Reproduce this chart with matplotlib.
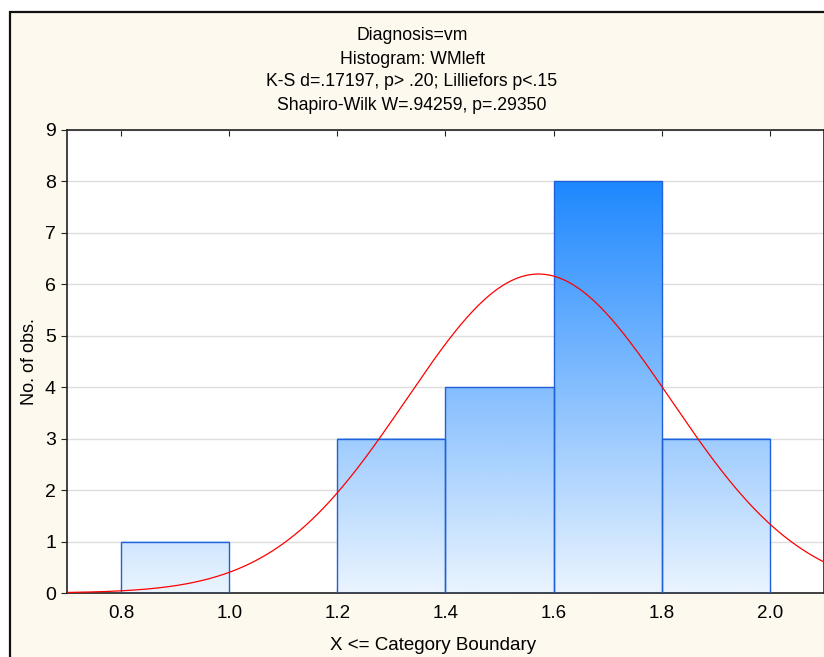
import numpy as np
import matplotlib
matplotlib.use("Agg")
from matplotlib import pyplot as plt
from matplotlib.colors import LinearSegmentedColormap
from matplotlib.patches import Rectangle

plt.rcParams['font.family'] = ['Liberation Sans', 'DejaVu Sans']

# histogram bins (lower boundaries) and counts
bin_left = [0.8, 1.0, 1.2, 1.4, 1.6, 1.8]
bin_width = 0.2
counts = [1, 0, 3, 4, 8, 3]
# fitted normal curve
fit_mean = 1.572
fit_sd = 0.2445
n_obs = 19

titles = ["Diagnosis=vm",
          "Histogram: WMleft",
          "K-S d=.17197, p> .20; Lilliefors p<.15",
          "Shapiro-Wilk W=.94259, p=.29350"]
xticks = [0.8, 1.0, 1.2, 1.4, 1.6, 1.8, 2.0]
yticks = [0, 1, 2, 3, 4, 5, 6, 7, 8, 9]

W, H = 824, 657
fig = plt.figure(figsize=(W / 100, H / 100), dpi=100)
fig.patch.set_facecolor('white')
# cream frame
fig.patches.append(Rectangle((10 / W, -0.1), 1.2, (H - 12) / H + 0.1, transform=fig.transFigure,
                             facecolor='#fef9ee', edgecolor='#111111', linewidth=1.6, zorder=-5))

ax = fig.add_axes([67 / W, (H - 593) / H, (824 - 67) / W, (593 - 130) / H])
ax.set_facecolor('white')

cmap = LinearSegmentedColormap.from_list('bars', ['#eaf4fe', '#1e88ff'])
for x0, c in zip(bin_left, counts):
    if c == 0:
        continue
    grad = np.linspace(0, c, 200).reshape(-1, 1)
    ax.imshow(grad, extent=[x0, x0 + bin_width, 0, c], origin='lower', aspect='auto',
              cmap=cmap, vmin=0, vmax=max(counts), zorder=2, interpolation='bilinear')
    ax.add_patch(Rectangle((x0, 0), bin_width, c, facecolor='none', edgecolor='#2060d8',
                           linewidth=1.0, zorder=3))
ax.set_xlim(0.7, 2.1)
ax.set_ylim(0, 9)

xs = np.linspace(0.7, 2.1, 400)
ys = n_obs * bin_width / (fit_sd * np.sqrt(2 * np.pi)) * np.exp(-(xs - fit_mean) ** 2 / (2 * fit_sd ** 2))
ax.plot(xs, ys, color='#ff0000', linewidth=0.9, zorder=4)

ax.set_xticks(xticks)
ax.set_xticklabels(["%.1f" % v for v in xticks])
ax.set_yticks(yticks)
ax.yaxis.grid(True, color='#dddddd', linewidth=1.0, zorder=0)
ax.set_axisbelow(True)
ax.tick_params(axis='x', direction='in', top=True, length=4, labelsize=13.5, pad=9, color='#222222')
ax.tick_params(axis='y', direction='out', right=True, length=4, labelsize=14, pad=4, color='#222222')
for s in ax.spines.values():
    s.set_color('#222222')
    s.set_linewidth(1.2)

for i, t in enumerate(titles):
    fig.text(412 / W, 1 - (36 + 23 * i) / H, t, ha='center', va='center', fontsize=12.7)

fig.text(433 / W, 1 - 645 / H, "X <= Category Boundary", ha='center', va='center', fontsize=13.5)
fig.text(30 / W, 1 - 362 / H, "No. of obs.", ha='center', va='center', rotation=90, fontsize=13)

fig.savefig('out.png', dpi=100, facecolor=fig.get_facecolor())
